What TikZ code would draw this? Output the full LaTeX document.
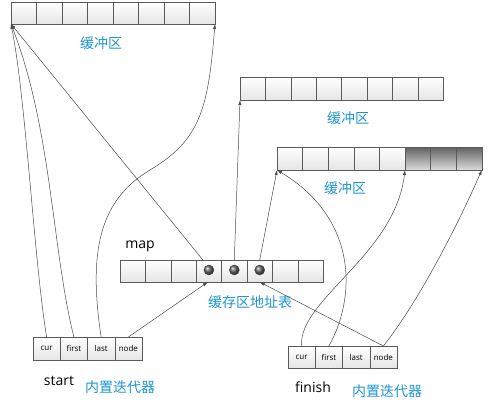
\documentclass[tikz,border=0pt]{standalone}
\usepackage{fontspec}
\setmainfont{Open Sans}
\newfontfamily\cjk{Noto Sans CJK SC}
\usetikzlibrary{arrows.meta,positioning,shadows}
\definecolor{labelblue}{HTML}{1E96D2}
\definecolor{linegray}{HTML}{4A4A4A}
\definecolor{cellline}{HTML}{5A5A5A}

\begin{document}
\begin{tikzpicture}[x=1pt,y=-1pt,>={Latex[length=5pt,width=3.2pt]}]
\tikzset{cell/.style={draw=cellline,top color=white,bottom color=black!10,minimum width=25.5pt,minimum height=22pt,inner sep=0pt,outer sep=0pt,drop shadow={opacity=0.2,shadow xshift=1.2pt,shadow yshift=-1.2pt}},
darkcell/.style={cell,top color=black!62,bottom color=black!14},
itcell/.style={cell,minimum width=27.25pt,minimum height=23pt,font=\fontsize{8}{9}\selectfont},
dot/.style={circle,draw=black!75,ball color=black!60,minimum size=10pt,inner sep=0pt},
ptr/.style={->,draw=linegray,line width=0.5pt},
cnlabel/.style={text=labelblue,font=\cjk\fontsize{14}{16}\selectfont},
enlabel/.style={font=\fontsize{14}{16}\selectfont}}
\useasboundingbox[fill=white] (0,0) rectangle (496,415);
\foreach \i in {1,...,8}
  \node[cell,anchor=north west] (bufA-\i) at ({11+(\i-1)*25.5},2) {};
\foreach \i in {1,...,8}
  \node[cell,minimum width=25.4pt,minimum height=23pt,anchor=north west] (bufB-\i) at ({240+(\i-1)*25.4},77) {};
\foreach \i in {1,...,5}
  \node[cell,minimum width=25.6pt,minimum height=23pt,anchor=north west] (bufC-\i) at ({277+(\i-1)*25.6},147) {};
\foreach \i in {6,7,8}
  \node[darkcell,minimum width=25.6pt,minimum height=23pt,anchor=north west] (bufC-\i) at ({277+(\i-1)*25.6},147) {};
\foreach \i in {1,...,8}
  \node[cell,minimum width=25.4pt,anchor=north west] (map-\i) at ({120+(\i-1)*25.4},260) {};
\foreach \i in {4,5,6}
  \node[dot] (dot-\i) at ([yshift=1pt]map-\i.center) {};
\node[itcell,anchor=north west] (st-cur) at (33,337) {cur};
\node[itcell,right=0pt of st-cur] (st-first) {first};
\node[itcell,right=0pt of st-first] (st-last) {last};
\node[itcell,right=0pt of st-last] (st-node) {node};
\node[itcell,minimum height=22pt,anchor=north west] (fi-cur) at (288,346) {cur};
\node[itcell,minimum height=22pt,right=0pt of fi-cur] (fi-first) {first};
\node[itcell,minimum height=22pt,right=0pt of fi-first] (fi-last) {last};
\node[itcell,minimum height=22pt,right=0pt of fi-last] (fi-node) {node};
\node[cnlabel] (bufA-lbl) at (101,43) {缓冲区};
\node[cnlabel] (bufB-lbl) at (348,118) {缓冲区};
\node[cnlabel] (bufC-lbl) at (345,188) {缓冲区};
\node[enlabel] (map-name) at (140,246) {map};
\node[cnlabel] (map-lbl) at (250,302) {缓存区地址表};
\node[enlabel] (st-name) at (59,381) {start};
\node[cnlabel] (st-lbl) at (120,387) {内置迭代器};
\node[enlabel] (fi-name) at (313,387) {finish};
\node[cnlabel] (fi-lbl) at (387,391) {内置迭代器};
\draw[ptr] (st-cur.north) .. controls (34,260) and (26,100) .. (bufA-1.south west);
\draw[ptr] (st-first.north) .. controls (52,250) and (52,130) .. (bufA-1.south west);
\draw[ptr] (st-last.north) .. controls (88,250) and (100,200) .. (150,170) .. controls (200,140) and (208,110) .. (bufA-8.south east);
\draw[ptr] (st-node.north) -- ([xshift=-1pt]map-4.south);
\draw[ptr] ([xshift=-6pt]map-4.north) -- (bufA-1.south west);
\draw[ptr] (map-5.north) -- (bufB-1.south west);
\draw[ptr] (map-6.north) -- (bufC-1.south west);
\draw[ptr] (fi-cur.north) .. controls (298,300) and (395,255) .. (bufC-6.south west);
\draw[ptr] (fi-first.north) .. controls (355,300) and (360,220) .. (bufC-1.south west);
\draw[ptr] (fi-node.north) -- (map-6.south);
\draw[ptr] (fi-node.north) .. controls (420,300) and (460,220) .. (bufC-8.south east);
\end{tikzpicture}
\end{document}
